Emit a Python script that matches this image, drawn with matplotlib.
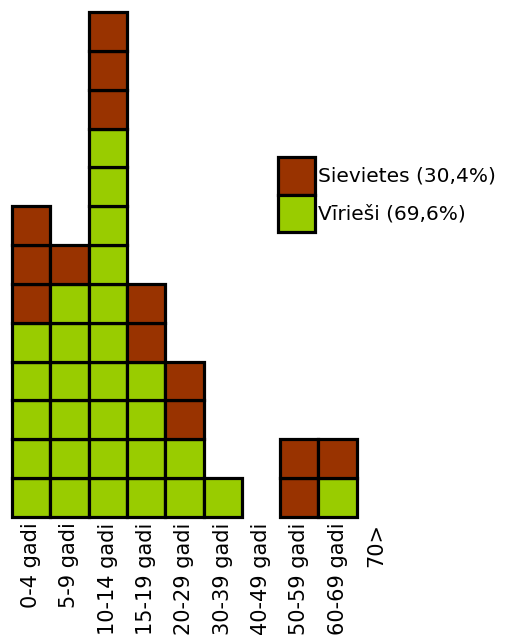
import matplotlib.pyplot as plt
from matplotlib.patches import Patch

# age groups and counts (one square per person)
groups = ["0-4 gadi", "5-9 gadi", "10-14 gadi", "15-19 gadi", "20-29 gadi",
          "30-39 gadi", "40-49 gadi", "50-59 gadi", "60-69 gadi", "70>"]
men = [5, 6, 10, 4, 2, 1, 0, 0, 1, 0]
women = [3, 1, 3, 2, 2, 0, 0, 2, 1, 0]
labels = ["Sievietes (30,4%)", "Vīrieši (69,6%)"]

green = "#99cc00"
brown = "#993300"
lw = 2.3

fig = plt.figure(figsize=(5.06, 6.36), dpi=100)
ax = fig.add_axes([12 / 506, 1 - 517 / 636, 383 / 506, 505 / 636])

for i, (m, w) in enumerate(zip(men, women)):
    for k in range(m):
        ax.bar(i, 1, bottom=k, width=1.0, color=green, edgecolor="black",
               linewidth=lw, clip_on=False)
    for k in range(w):
        ax.bar(i, 1, bottom=m + k, width=1.0, color=brown, edgecolor="black",
               linewidth=lw, clip_on=False)

ax.set_xlim(-0.5, 9.5)
ax.set_ylim(0, 13)
ax.set_xticks(range(len(groups)))
ax.set_xticklabels(groups, rotation=90, fontsize=15, family="DejaVu Sans")
ax.tick_params(axis="x", length=0, pad=4)
ax.set_yticks([])
for s in ax.spines.values():
    s.set_visible(False)

handles = [Patch(facecolor=brown, edgecolor="black", linewidth=lw),
           Patch(facecolor=green, edgecolor="black", linewidth=lw)]
fig.legend(handles, labels, loc="upper left",
           bbox_to_anchor=(278 / 506, 1 - 157 / 636), frameon=False,
           borderpad=0, borderaxespad=0, labelspacing=0,
           handlelength=1.85, handleheight=2.5, handletextpad=0.15,
           prop={"family": "DejaVu Sans", "size": 14.5})

fig.savefig("out.png", dpi=100)
